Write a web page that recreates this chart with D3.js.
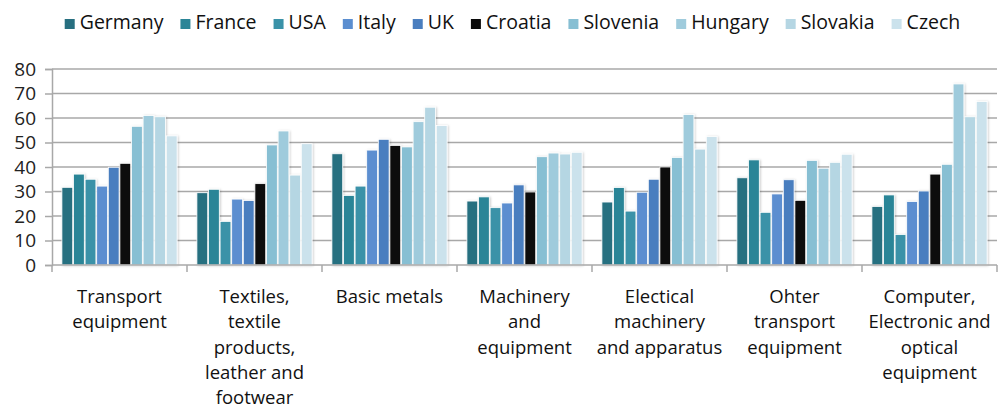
<!DOCTYPE html>
<html><head><meta charset="utf-8">
<script src="https://cdn.jsdelivr.net/npm/d3@7"></script>
<style>
html,body{margin:0;padding:0;background:#fff;}
svg{display:block;font-family:"Open Sans",sans-serif;}
</style></head>
<body>
<svg id="c" width="999" height="414"></svg>
<script>
const categories = [
  ["Transport","equipment"],
  ["Textiles,","textile","products,","leather and","footwear"],
  ["Basic metals"],
  ["Machinery","and","equipment"],
  ["Electical","machinery","and apparatus"],
  ["Ohter","transport","equipment"],
  ["Computer,","Electronic and","optical","equipment"]
];
const series = ["Germany","France","USA","Italy","UK","Croatia","Slovenia","Hungary","Slovakia","Czech"];
const colors = ["#276f80","#2b8597","#3a92a8","#5b8ed0","#4a7ebf","#0a0a0a","#87bfd3","#9fcbdc","#b5d6e3","#cbe2ec"];
const germany  = [31.7, 29.5, 45.4, 26.1, 25.7, 35.6, 23.9];
const france   = [37.1, 30.9, 28.4, 27.8, 31.6, 42.9, 28.6];
const usa      = [35.0, 17.8, 32.2, 23.4, 22.0, 21.5, 12.4];
const italy    = [32.2, 26.9, 46.9, 25.3, 29.7, 29.0, 25.9];
const uk       = [39.9, 26.3, 51.3, 32.7, 35.0, 34.8, 30.2];
const croatia  = [41.5, 33.2, 48.8, 29.8, 40.0, 26.4, 37.1];
const slovenia = [56.6, 49.0, 48.2, 44.2, 43.9, 42.7, 41.1];
const hungary  = [61.0, 54.7, 58.5, 45.7, 61.4, 39.5, 73.9];
const slovakia = [60.5, 36.7, 64.4, 45.3, 47.3, 41.9, 60.5];
const czech    = [52.7, 49.5, 56.9, 46.0, 52.4, 45.2, 66.7];
const yTicks = [0,10,20,30,40,50,60,70,80];

const values = [germany,france,usa,italy,uk,croatia,slovenia,hungary,slovakia,czech];
const svg = d3.select("#c");
const mLeft = 52, mRight = 997, mTop = 69, mBottom = 265;
const catIdx = d3.range(categories.length);
const x0 = d3.scaleBand().domain(catIdx).range([mLeft, mRight]).padding(0);
const x1 = d3.scaleBand().domain(series).range([9.5, x0.bandwidth()-9.5]).padding(0);
const y = d3.scaleLinear().domain([0,80]).range([mBottom, mTop]);

const defs = svg.append("defs");
const f = defs.append("filter").attr("id","sh").attr("x","-20%").attr("y","-10%").attr("width","160%").attr("height","130%");
f.append("feDropShadow").attr("dx",1).attr("dy",0.5).attr("stdDeviation",0.9).attr("flood-color","#000").attr("flood-opacity",0.2);

// gridlines
svg.append("g").selectAll("line").data(yTicks.filter(d=>d>0)).join("line")
  .attr("x1", mLeft).attr("x2", mRight).attr("y1", d=>y(d)).attr("y2", d=>y(d))
  .attr("stroke","#a8a8a8").attr("stroke-width",1.5);

// y axis
const yAxis = d3.axisLeft(y).tickValues(yTicks).tickSize(7).tickPadding(9);
const gy = svg.append("g").attr("transform",`translate(${mLeft},0)`).call(yAxis);
gy.select(".domain").attr("stroke","#a8a8a8").attr("stroke-width",1.5);
gy.selectAll(".tick line").attr("stroke","#a8a8a8").attr("stroke-width",1.5);
gy.selectAll(".tick text").attr("font-size",19).attr("fill","#222").attr("font-family","'Open Sans',sans-serif");

// bars
const groups = svg.append("g").selectAll("g").data(catIdx).join("g")
  .attr("transform", i=>`translate(${x0(i)},0)`);
groups.selectAll("rect").data(i=>series.map((s,k)=>({s,k,v:values[k][i]}))).join("rect")
  .attr("x", d=>x1(d.s)+0.4).attr("width", x1.bandwidth()-0.8)
  .attr("y", d=>y(d.v)).attr("height", d=>mBottom-y(d.v))
  .attr("fill", d=>colors[d.k]).attr("stroke","#fff").attr("stroke-width",0.8)
  .attr("filter","url(#sh)");

// x axis
const gx = svg.append("g").attr("transform",`translate(0,${mBottom})`);
gx.append("line").attr("x1",mLeft).attr("x2",mRight).attr("stroke","#a8a8a8").attr("stroke-width",1.5);
gx.selectAll("line.t").data(d3.range(categories.length+1)).join("line").attr("class","t")
  .attr("x1", i=>mLeft+i*x0.bandwidth()).attr("x2", i=>mLeft+i*x0.bandwidth())
  .attr("y1",0).attr("y2",7).attr("stroke","#a8a8a8").attr("stroke-width",1.5);
const lab = gx.selectAll("text").data(catIdx).join("text")
  .attr("x", i=>x0(i)+x0.bandwidth()/2).attr("y", 38)
  .attr("text-anchor","middle").attr("font-size",18.5).attr("fill","#111");
lab.selectAll("tspan").data(i=>categories[i].map((t,j)=>({t,j}))).join("tspan")
  .attr("x", function(){return this.parentNode.getAttribute("x");})
  .attr("dy", d=>d.j===0?0:25.3).text(d=>d.t);

// legend
const lg = svg.append("g");
const items = lg.selectAll("g").data(series).join("g");
items.append("rect").attr("width",10).attr("height",10).attr("y",-10).attr("fill",(d,i)=>colors[i]);
items.append("text").attr("x",15).attr("y",0).attr("font-size",19.5).attr("fill","#111").text(d=>d);
let cx = 0;
items.each(function(){
  const w = d3.select(this).select("text").node().getComputedTextLength();
  d3.select(this).attr("transform",`translate(${cx},0)`);
  cx += 15 + w + 17;
});
const total = cx - 17;
lg.attr("transform",`translate(${512.5-total/2},29)`);
</script>
</body></html>
